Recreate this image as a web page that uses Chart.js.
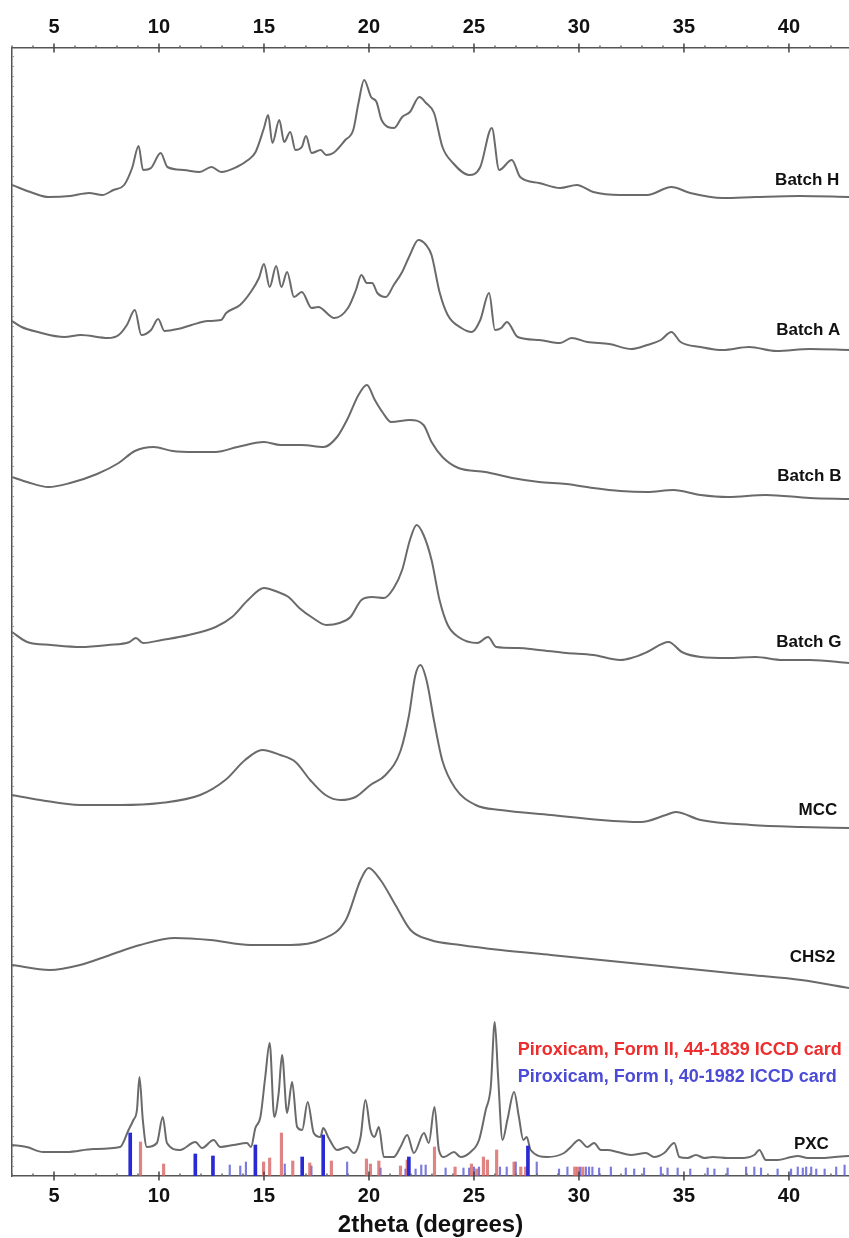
<!DOCTYPE html>
<html><head><meta charset="utf-8">
<script src="https://cdn.jsdelivr.net/npm/chart.js@4.4.1/dist/chart.umd.min.js"></script>
<style>html,body{margin:0;padding:0;background:#fff;}canvas{display:block;}</style>
</head><body>
<canvas id="c" width="849" height="1238"></canvas>
<script>
// ---- data (2theta in degrees, stacked intensity in arbitrary units) ----
const xTickValues = [5, 10, 15, 20, 25, 30, 35, 40];
const seriesNames = ['Batch H', 'Batch A', 'Batch B', 'Batch G', 'MCC', 'CHS2', 'PXC'];
const legendTexts = ['Piroxicam, Form II, 44-1839 ICCD card', 'Piroxicam, Form I, 40-1982 ICCD card'];

const batchH = [[3.0,991],[4.0,983],[4.74,979],[5.77,980],[6.67,983],[7.3,981],[7.83,986],[8.34,991],[8.72,1008],[9.03,1030],[9.24,1006],[9.62,1008],[10.08,1023],[10.4,1009],[11.17,1006],[11.93,1004],[12.5,1009],[12.96,1004],[13.7,1009],[14.24,1016],[14.6,1024],[15.0,1048],[15.2,1061],[15.4,1033],[15.73,1056],[15.96,1034],[16.25,1044],[16.5,1026],[16.8,1029],[17.0,1040],[17.27,1023],[17.7,1026],[17.96,1021],[18.3,1023],[18.87,1036],[19.25,1046],[19.5,1073],[19.77,1096],[20.1,1079],[20.36,1074],[20.6,1056],[21.2,1048],[21.58,1059],[21.95,1064],[22.4,1079],[22.72,1073],[23.1,1063],[23.5,1029],[24.0,1013],[24.77,1001],[25.3,1009],[25.85,1048],[26.2,1006],[26.8,1016],[27.2,999],[28.1,993],[29.1,988],[29.9,991],[30.68,984],[31.97,981],[33.25,981],[34.4,989],[35.3,983],[36.85,978],[38.4,979],[40.5,980],[42.86,979]];
const batchA = [[3.0,855],[3.46,849],[4.23,844],[5.5,839],[6.28,841],[7.57,838],[8.08,841],[8.47,851],[8.85,866],[9.16,841],[9.62,846],[9.96,857],[10.26,845],[10.9,847],[11.55,851],[12.32,855],[12.96,856],[13.2,863],[13.86,871],[14.37,884],[14.76,898],[15.0,912],[15.27,889],[15.58,910],[15.83,889],[16.1,904],[16.43,879],[16.8,884],[17.27,868],[17.58,869],[18.35,858],[19.0,868],[19.38,886],[19.64,901],[19.9,893],[20.15,893],[20.4,883],[20.8,879],[21.18,891],[21.58,904],[21.95,921],[22.35,936],[22.72,931],[22.98,921],[23.36,884],[23.75,861],[24.4,848],[24.9,844],[25.3,856],[25.72,883],[26.0,846],[26.3,848],[26.57,854],[27.08,839],[28.1,836],[29.1,833],[29.65,838],[30.4,834],[31.45,832],[32.5,827],[33.25,831],[33.9,836],[34.4,844],[34.84,834],[35.8,829],[36.85,826],[38.1,829],[39.4,825],[41.0,827],[42.86,826]];
const batchB = [[3.0,699],[3.72,694],[4.74,689],[5.77,693],[7.05,702],[8.08,713],[8.85,725],[9.75,729],[10.65,725],[11.68,724],[12.7,724],[13.73,729],[15.0,734],[15.79,731],[16.8,731],[17.84,729],[18.48,739],[19.0,758],[19.5,781],[19.9,791],[20.28,776],[20.67,763],[21.05,754],[21.95,756],[22.6,751],[22.98,734],[23.5,719],[24.26,708],[25.55,704],[26.83,698],[28.1,694],[29.4,692],[30.68,688],[31.97,685],[33.25,684],[34.5,686],[35.8,681],[37.1,679],[38.9,681],[41.0,678],[42.86,677]];
const batchG = [[3.0,544],[3.72,534],[4.87,531],[6.28,529],[7.57,531],[8.6,534],[8.9,538],[9.24,533],[10.14,536],[11.42,541],[12.7,549],[13.48,559],[14.24,576],[15.0,588],[15.66,584],[16.17,579],[16.68,568],[17.33,558],[17.97,551],[18.6,553],[19.12,559],[19.64,576],[20.15,579],[20.72,578],[21.18,588],[21.58,606],[21.95,636],[22.27,651],[22.6,641],[22.98,616],[23.36,576],[23.75,551],[24.26,539],[25.16,533],[25.67,539],[26.06,529],[27.08,528],[28.1,526],[29.4,523],[30.68,521],[31.97,516],[32.5,518],[33.25,524],[34.27,534],[34.9,524],[35.8,519],[37.1,518],[38.4,519],[39.7,516],[41.0,516],[42.86,513]];
const mcc = [[3.0,381],[4.34,376],[6.24,371],[8.15,371],[10.06,373],[11.96,381],[13.16,396],[14.1,416],[14.92,426],[15.78,421],[16.5,414],[17.2,396],[17.93,381],[18.64,376],[19.36,379],[20.07,391],[20.79,401],[21.5,425],[21.9,460],[22.2,500],[22.45,511],[22.75,495],[23.1,455],[23.5,415],[24.1,388],[25.08,371],[26.27,366],[28.66,361],[31.04,356],[32.95,354],[34.14,361],[34.6,364],[35.8,356],[38.2,351],[40.6,349],[42.86,348]];
const chs2 = [[3.0,211],[4.8,206],[6.24,211],[7.67,221],[9.1,231],[10.77,238],[12.44,236],[14.35,231],[16.26,231],[17.69,236],[18.9,256],[19.6,296],[19.98,308],[20.55,296],[21.26,271],[21.98,246],[22.93,236],[24.36,231],[26.27,226],[28.66,221],[31.04,216],[33.43,211],[35.8,206],[38.19,201],[40.58,196],[42.86,188]];
const pxc = [[3.0,31],[3.7,29],[4.49,24],[5.6,24],[6.88,27],[8.15,29],[8.55,46],[8.78,56],[8.95,66],[9.07,99],[9.23,56],[9.42,29],[9.9,33],[10.18,59],[10.38,33],[11.0,26],[11.73,34],[12.05,28],[12.6,36],[12.92,29],[13.55,31],[14.19,33],[14.38,29],[14.59,48],[14.83,59],[15.06,99],[15.27,133],[15.49,59],[15.7,83],[15.86,121],[16.1,63],[16.34,94],[16.58,49],[16.82,46],[17.08,74],[17.37,43],[17.69,39],[17.82,48],[18.08,38],[18.48,26],[18.96,29],[19.28,23],[19.6,39],[19.83,76],[20.07,46],[20.26,39],[20.47,49],[20.71,19],[21.18,19],[21.5,29],[21.82,41],[22.14,23],[22.62,43],[22.85,33],[23.12,69],[23.33,26],[23.57,19],[24.05,24],[24.36,19],[24.84,24],[25.24,36],[25.56,66],[25.8,89],[25.99,154],[26.15,99],[26.36,36],[26.59,56],[26.91,84],[27.14,59],[27.35,36],[27.51,39],[27.7,26],[28.5,19],[29.29,23],[29.61,29],[30.0,36],[30.4,29],[30.72,33],[31.04,26],[31.36,26],[31.84,24],[32.47,21],[33.19,23],[33.58,19],[34.06,23],[34.54,33],[34.78,19],[35.17,18],[35.57,21],[35.97,18],[36.37,19],[37.08,18],[37.87,18],[38.35,21],[38.59,26],[38.9,16],[39.46,16],[40.1,19],[40.42,20],[40.9,18],[41.53,18],[42.17,19],[42.86,20]];

// reference stick patterns [2theta, relative height]
const formII = [[9.12,34],[10.22,12],[14.98,14],[15.27,18],[15.83,43],[16.37,15],[17.18,13],[18.21,15],[19.88,17],[20.07,12],[20.47,15],[21.5,10],[21.82,16],[23.12,29],[24.1,9],[24.88,12],[25.13,7],[25.45,19],[25.64,16],[26.08,26],[26.91,14],[27.23,9],[27.46,9],[29.8,9],[29.93,9],[30.18,9]];
const formI = [[8.63,43],[11.73,22],[12.57,20],[13.37,11],[13.87,10],[14.14,14],[14.59,31],[15.99,12],[16.82,19],[17.26,10],[17.82,41],[18.96,14],[20.55,8],[21.74,7],[21.9,19],[22.22,7],[22.49,11],[22.7,11],[23.65,8],[24.5,8],[24.77,8],[25.0,9],[25.24,9],[26.24,9],[26.56,9],[26.99,14],[27.57,30],[27.99,14],[29.05,7],[29.45,9],[30.05,9],[30.33,9],[30.48,9],[30.64,9],[30.96,8],[31.52,9],[32.23,8],[32.63,7],[33.1,8],[33.9,9],[34.22,8],[34.7,8],[35.3,7],[36.13,8],[36.45,7],[37.08,8],[37.96,9],[38.35,9],[38.67,8],[39.46,7],[40.1,7],[40.42,9],[40.66,8],[40.82,9],[41.06,9],[41.3,7],[41.7,7],[42.25,9],[42.65,11]];

// ---- layout / style ----
const X_MIN = 3, X_MAX = 42.86, Y_MAX = 1128;
const FONT = '"Liberation Sans", Arial, sans-serif';
const LINE_COLOR = '#6a6a6a';
const labelAnchors = [ // [right-edge 2theta, centre y]
  [42.4, 996], [42.45, 846], [42.5, 700], [42.5, 534], [42.3, 366], [42.2, 219], [41.9, 32]
];
const legendAnchor = { x: 27.08, y: [126, 99], colors: ['#ec2e2e', '#4b4bd6'] };

const toXY = arr => arr.map(p => ({ x: p[0], y: p[1] }));
const traces = [batchH, batchA, batchB, batchG, mcc, chs2, pxc];

const datasets = traces.map((t, i) => ({
  type: 'line', label: seriesNames[i], data: toXY(t),
  borderColor: LINE_COLOR, borderWidth: 2, pointRadius: 0,
  cubicInterpolationMode: 'monotone', fill: false, order: 1
}));
datasets.push({
  type: 'bar', label: legendTexts[0], data: toXY(formII),
  backgroundColor: 'rgba(214,90,90,0.75)', barThickness: 2.5, grouped: false, order: 2
});
datasets.push({
  type: 'bar', label: legendTexts[1] + ' strong', data: toXY(formI.filter(p => p[1] >= 19)),
  backgroundColor: '#2a2ad4', barThickness: 3, grouped: false, order: 0
});
datasets.push({
  type: 'bar', label: legendTexts[1], data: toXY(formI.filter(p => p[1] < 19)),
  backgroundColor: 'rgba(90,90,215,0.8)', barThickness: 1.5, grouped: false, order: 2
});

const axisTicks = {
  id: 'axisTicks',
  afterDraw(chart) {
    const ctx = chart.ctx, ca = chart.chartArea, xs = chart.scales.x, ys = chart.scales.y;
    ctx.save();
    [ca.bottom, ca.top].forEach(ay => {
      for (let v = Math.ceil(X_MIN); v <= X_MAX; v++) {
        const px = xs.getPixelForValue(v);
        ctx.beginPath();
        ctx.lineWidth = 1.5;
        if (v % 5 === 0) {
          ctx.strokeStyle = '#444';
          ctx.moveTo(px, ay - 4.5); ctx.lineTo(px, ay + 4.5);
        } else {
          ctx.strokeStyle = '#666';
          ctx.moveTo(px, ay); ctx.lineTo(px, ay - 2.5);
        }
        ctx.stroke();
      }
    });
    // faint minor ticks on the left axis
    ctx.strokeStyle = '#999'; ctx.lineWidth = 1;
    for (let v = 10; v < Y_MAX; v += 10) {
      const py = Math.round(ys.getPixelForValue(v)) + 0.5;
      ctx.beginPath(); ctx.moveTo(ca.left, py); ctx.lineTo(ca.left + 2, py); ctx.stroke();
    }
    // series names
    ctx.fillStyle = '#111';
    ctx.font = 'bold 17px ' + FONT;
    ctx.textAlign = 'right'; ctx.textBaseline = 'middle';
    seriesNames.forEach((n, i) => {
      ctx.fillText(n, xs.getPixelForValue(labelAnchors[i][0]), ys.getPixelForValue(labelAnchors[i][1]));
    });
    // stick legend
    ctx.font = 'bold 18px ' + FONT;
    ctx.textAlign = 'left';
    legendTexts.forEach((t, i) => {
      ctx.fillStyle = legendAnchor.colors[i];
      ctx.fillText(t, xs.getPixelForValue(legendAnchor.x), ys.getPixelForValue(legendAnchor.y[i]));
    });
    ctx.restore();
  }
};

const xAxisBase = (pos, h, pad) => ({
  type: 'linear', position: pos, min: X_MIN, max: X_MAX, offset: false,
  grid: { display: false },
  border: { display: true, color: '#555', width: 1.5 },
  afterBuildTicks: s => { s.ticks = xTickValues.map(v => ({ value: v })); },
  ticks: { font: { family: FONT, size: 20, weight: 'bold' }, color: '#111', padding: pad, maxRotation: 0, autoSkip: false },
  afterFit: s => { s.height = h; }
});

const xBottom = xAxisBase('bottom', 62, 0);
xBottom.title = { display: true, text: '2theta (degrees)', font: { family: FONT, size: 24, weight: 'bold' }, color: '#111', padding: { top: 0, bottom: -2 } };

new Chart(document.getElementById('c'), {
  type: 'bar',
  data: { datasets },
  options: {
    responsive: false, animation: false, devicePixelRatio: 1,
    layout: { padding: 0 },
    plugins: { legend: { display: false }, tooltip: { enabled: false } },
    scales: {
      x: xBottom,
      x2: xAxisBase('top', 48, 1),
      y: {
        min: 0, max: Y_MAX, grid: { display: false },
        ticks: { display: false },
        border: { display: true, color: '#555', width: 1.5 },
        afterFit: s => { s.width = 12; }
      }
    }
  },
  plugins: [axisTicks]
});
</script>
</body></html>
